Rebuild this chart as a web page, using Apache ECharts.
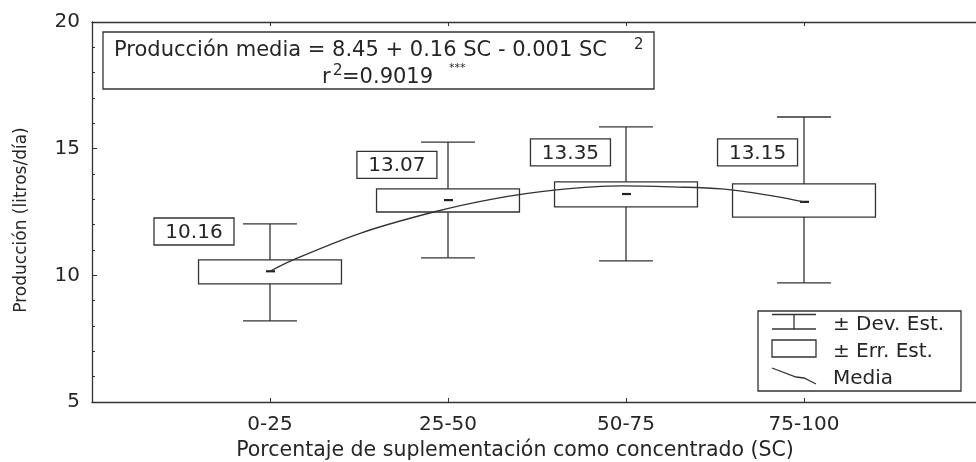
<!DOCTYPE html>
<html><head><meta charset="utf-8">
<script src="https://cdn.jsdelivr.net/npm/echarts@6/dist/echarts.min.js"></script>
<style>html,body{margin:0;padding:0;background:#fff}#c{width:976px;height:462px}</style>
</head><body><div id="c"></div>
<script>
// ---- data ----
const categories = ['0-25', '25-50', '50-75', '75-100'];
const meanVals   = [10.16, 12.97, 13.21, 12.90];
const meanLabels = ['10.16', '13.07', '13.35', '13.15'];
const seLow  = [9.66, 12.50, 12.70, 12.30];
const seHigh = [10.61, 13.41, 13.69, 13.61];
const sdLow  = [8.20, 10.69, 10.57, 9.70];
const sdHigh = [12.03, 15.26, 15.86, 16.25];
const curveX = [1, 1.13, 1.51, 1.92, 2.25, 2.61, 2.98, 3.26, 3.54, 3.83, 4.0];
const curveY = [10.16, 10.61, 11.67, 12.50, 13.01, 13.37, 13.53, 13.49, 13.41, 13.13, 12.90];
const yTicks = [5, 10, 15, 20];
const equationText = 'Producción media = 8.45 + 0.16 SC - 0.001 SC';
const r2Text = '=0.9019';
const legendLabels = ['± Dev. Est.', '± Err. Est.', 'Media'];

// ---- layout ----
const FONT = 'DejaVu Sans';
const INK = '#262626';
const LW = 1.3;
const BOX_W = 0.803, CAP_W = 0.303;
const labelAnchor = [[0.573, 11.73], [1.713, 14.36], [2.688, 14.85], [3.739, 14.85]];

const chart = echarts.init(document.getElementById('c'), null, {renderer: 'canvas'});

const boxData = categories.map((c, i) => [i + 1, sdLow[i], seLow[i], seHigh[i], sdHigh[i], meanVals[i]]);
const labelData = meanLabels.map((t, i) => [labelAnchor[i][0], labelAnchor[i][1], t]);

const lineStyle = {stroke: '#333', lineWidth: LW, fill: null};

function renderBox(params, api) {
  const x = api.value(0);
  const bw = api.size([BOX_W, 0])[0], cw = api.size([CAP_W, 0])[0];
  const pSdL = api.coord([x, api.value(1)]);
  const pSeL = api.coord([x, api.value(2)]);
  const pSeH = api.coord([x, api.value(3)]);
  const pSdH = api.coord([x, api.value(4)]);
  const pM = api.coord([x, api.value(5)]);
  const cx = pM[0];
  return {type: 'group', children: [
    {type: 'line', shape: {x1: cx, y1: pSeH[1], x2: cx, y2: pSdH[1]}, style: lineStyle},
    {type: 'line', shape: {x1: cx, y1: pSeL[1], x2: cx, y2: pSdL[1]}, style: lineStyle},
    {type: 'line', shape: {x1: cx - cw / 2, y1: pSdH[1], x2: cx + cw / 2, y2: pSdH[1]}, style: lineStyle},
    {type: 'line', shape: {x1: cx - cw / 2, y1: pSdL[1], x2: cx + cw / 2, y2: pSdL[1]}, style: lineStyle},
    {type: 'rect', shape: {x: cx - bw / 2, y: pSeH[1], width: bw, height: pSeL[1] - pSeH[1]}, style: lineStyle},
    {type: 'line', shape: {x1: cx - 4, y1: pM[1], x2: cx + 5, y2: pM[1]}, style: {stroke: '#222', lineWidth: 2.2}}
  ]};
}

function renderLabel(params, api) {
  const p = api.coord([api.value(0), api.value(1)]);
  const t = labelData[params.dataIndex][2];
  return {type: 'group', children: [
    {type: 'rect', shape: {x: p[0] - 40, y: p[1] - 13.5, width: 80, height: 27}, style: {stroke: '#333', lineWidth: LW, fill: '#fff'}},
    {type: 'text', x: p[0], y: p[1] + 1, style: {text: t, font: '20px "' + FONT + '"', fill: INK, align: 'center', verticalAlign: 'middle'}}
  ]};
}

const txt = (x, y, text, size, extra) => Object.assign({type: 'text', x, y, silent: true,
  style: {text, font: size + 'px "' + FONT + '"', fill: INK, verticalAlign: 'middle'}}, extra || {});

const graphics = [
  {type: 'rect', shape: {x: 103, y: 32, width: 551, height: 57}, style: {stroke: '#333', lineWidth: LW, fill: '#fff'}, z: 10},
  Object.assign(txt(114, 51, equationText, 21), {z: 11}),
  Object.assign(txt(634, 45, '2', 15), {z: 11}),
  Object.assign(txt(322, 78, 'r', 21), {z: 11}),
  Object.assign(txt(333, 71, '2', 15), {z: 11}),
  Object.assign(txt(342, 78, r2Text, 21), {z: 11}),
  Object.assign(txt(449, 68, '***', 11), {z: 11}),
  // legend
  {type: 'rect', shape: {x: 758, y: 311, width: 203, height: 80}, style: {stroke: '#333', lineWidth: LW, fill: '#fff'}, z: 10},
  {type: 'line', shape: {x1: 772, y1: 314.5, x2: 816, y2: 314.5}, style: lineStyle, z: 11},
  {type: 'line', shape: {x1: 794, y1: 314.5, x2: 794, y2: 329}, style: lineStyle, z: 11},
  {type: 'line', shape: {x1: 772, y1: 329, x2: 816, y2: 329}, style: lineStyle, z: 11},
  {type: 'rect', shape: {x: 772, y: 340, width: 44, height: 17}, style: lineStyle, z: 11},
  {type: 'polyline', shape: {points: [[772, 368], [796, 377], [804, 378], [816, 384]]}, style: lineStyle, z: 11},
  Object.assign(txt(833, 325, legendLabels[0], 20), {z: 11}),
  Object.assign(txt(833, 352, legendLabels[1], 20), {z: 11}),
  Object.assign(txt(833, 379, legendLabels[2], 20), {z: 11})
];

const option = {
  animation: false,
  backgroundColor: '#fff',
  grid: {left: 92, top: 22, width: 890, height: 380, containLabel: false, outerBoundsMode: 'none'},
  xAxis: [{
    type: 'value', min: 0, max: 5, interval: 1, position: 'bottom',
    axisLine: {show: true, lineStyle: {color: '#333', width: LW}},
    axisTick: {show: true, inside: true, length: 4, lineStyle: {color: '#333'}},
    splitLine: {show: false},
    axisLabel: {formatter: v => categories[v - 1] || '', fontFamily: FONT, fontSize: 20, color: INK, margin: 13},
    name: 'Porcentaje de suplementación como concentrado (SC)',
    nameLocation: 'middle', nameGap: 38,
    nameTextStyle: {fontFamily: FONT, fontSize: 20.5, color: INK, padding: [0, 44, 0, 0]}
  }, {
    type: 'value', min: 0, max: 5, interval: 1, position: 'top',
    axisLine: {show: true, lineStyle: {color: '#333', width: LW}},
    axisTick: {show: true, inside: true, length: 4, lineStyle: {color: '#333'}},
    splitLine: {show: false}, axisLabel: {show: false}
  }],
  yAxis: {
    type: 'value', min: yTicks[0], max: yTicks[yTicks.length - 1], interval: 5,
    axisLine: {show: true, lineStyle: {color: '#333', width: LW}},
    axisTick: {show: true, inside: true, length: 5, lineStyle: {color: '#333'}},
    minorTick: {show: true, splitNumber: 5, length: 3, lineStyle: {color: '#333'}},
    splitLine: {show: false},
    axisLabel: {fontFamily: FONT, fontSize: 20, color: INK, margin: 12},
    name: 'Producción (litros/día)', nameLocation: 'middle', nameRotate: 90, nameGap: 62,
    nameTextStyle: {fontFamily: FONT, fontSize: 17, color: INK, padding: [0, 16, 0, 0]}
  },
  series: [
    {type: 'custom', renderItem: renderBox, data: boxData, clip: false, z: 2},
    {type: 'line', data: curveX.map((x, i) => [x, curveY[i]]), smooth: 0.35, showSymbol: false, symbol: 'none',
      lineStyle: {color: '#333', width: LW}, z: 3},
    {type: 'custom', renderItem: renderLabel, data: labelData.map(d => [d[0], d[1]]), clip: false, z: 4}
  ],
  graphic: graphics
};
chart.setOption(option);
</script>
</body></html>
